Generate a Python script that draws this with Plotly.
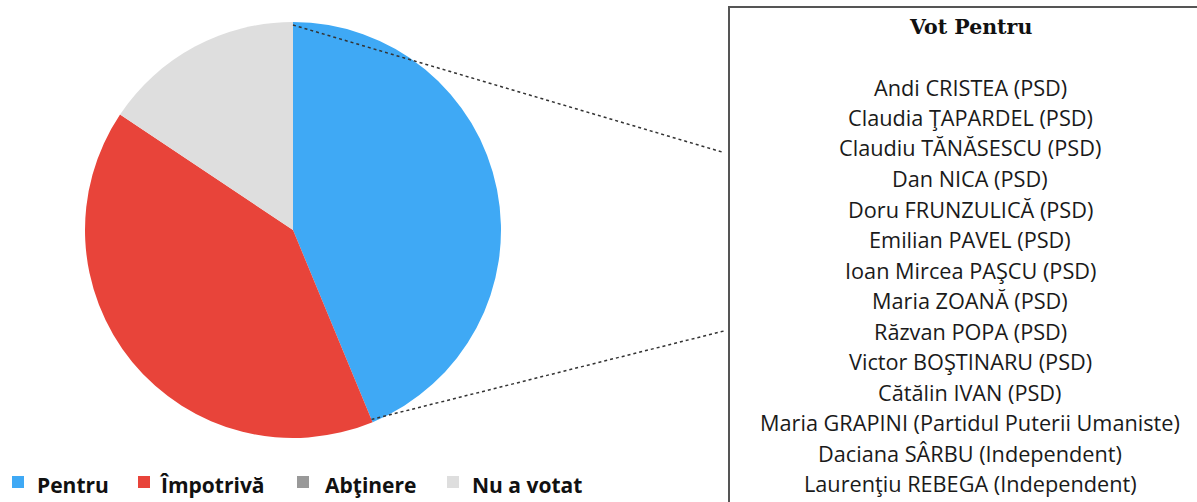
import math
import plotly.graph_objects as go

W, H = 1197, 502

categories = ["Pentru", "Împotrivă", "Abţinere", "Nu a votat"]
votes = [14, 13, 0, 5]
colors = ["#3fa9f5", "#e8443a", "#999999", "#dedede"]

box_title = "Vot Pentru"
names_for = [
    "Andi CRISTEA (PSD)",
    "Claudia ŢAPARDEL (PSD)",
    "Claudiu TĂNĂSESCU (PSD)",
    "Dan NICA (PSD)",
    "Doru FRUNZULICĂ (PSD)",
    "Emilian PAVEL (PSD)",
    "Ioan Mircea PAŞCU (PSD)",
    "Maria ZOANĂ (PSD)",
    "Răzvan POPA (PSD)",
    "Victor BOŞTINARU (PSD)",
    "Cătălin IVAN (PSD)",
    "Maria GRAPINI (Partidul Puterii Umaniste)",
    "Daciana SÂRBU (Independent)",
    "Laurenţiu REBEGA (Independent)",
]


def px(x):
    return x / W


def py(y):
    return 1 - y / H


cx, cy, R = 293, 230, 208

fig = go.Figure()
fig.add_trace(go.Pie(
    labels=categories,
    values=votes,
    marker=dict(colors=colors, line=dict(width=0)),
    sort=False,
    direction="clockwise",
    rotation=0,
    textinfo="none",
    hoverinfo="label+value",
    showlegend=False,
    domain=dict(x=[px(cx - R), px(cx + R)], y=[py(cy + R), py(cy - R)]),
))

shapes = []
annotations = []

# box
shapes.append(dict(type="rect", xref="paper", yref="paper",
                   x0=px(729), x1=px(1215), y0=py(7), y1=py(520),
                   line=dict(color="#555555", width=2), fillcolor="rgba(0,0,0,0)"))

# dotted connectors from slice boundaries of "Pentru"
total = sum(votes)
a_start = 0.0
a_end = votes[0] / total * 2 * math.pi
r_in = R - 3
for ang, (tx, ty) in [(a_start, (722, 152)), (a_end, (724, 331))]:
    sx = cx + r_in * math.sin(ang)
    sy = cy - r_in * math.cos(ang)
    shapes.append(dict(type="line", xref="paper", yref="paper",
                       x0=px(sx), y0=py(sy), x1=px(tx), y1=py(ty),
                       line=dict(color="#333333", width=1.5, dash="dot")))

# title and names
name_cx = 970
annotations.append(dict(text="<b>" + box_title + "</b>", xref="paper", yref="paper",
                        x=px(name_cx), y=py(27), xanchor="center", yanchor="middle",
                        showarrow=False,
                        font=dict(family="DejaVu Serif", size=20.5, color="#111111")))
for i, n in enumerate(names_for):
    annotations.append(dict(text=n, xref="paper", yref="paper",
                            x=px(name_cx), y=py(87 + 30.5 * i), xanchor="center", yanchor="middle",
                            showarrow=False,
                            font=dict(family="Open Sans", size=21.7, color="#1a1a1a")))

# legend
leg_sq = [12, 138, 297, 447]
leg_tx = [35, 158, 323, 470]
for i, (c, col) in enumerate(zip(categories, colors)):
    x0 = leg_sq[i]
    shapes.append(dict(type="rect", xref="paper", yref="paper",
                       x0=px(x0), x1=px(x0 + 12), y0=py(488), y1=py(476),
                       line=dict(width=0), fillcolor=col))
    annotations.append(dict(text="<b>" + c + "</b>", xref="paper", yref="paper",
                            x=px(leg_tx[i]), y=py(485), xanchor="left", yanchor="middle",
                            showarrow=False,
                            font=dict(family="Open Sans", size=21, color="#111111")))

fig.update_layout(
    width=W, height=H,
    margin=dict(l=0, r=0, t=0, b=0),
    paper_bgcolor="white", plot_bgcolor="white",
    shapes=shapes, annotations=annotations,
    showlegend=False,
)

fig.write_html("out.html", config={"displayModeBar": False},
               post_script="document.body.style.margin='0';")
